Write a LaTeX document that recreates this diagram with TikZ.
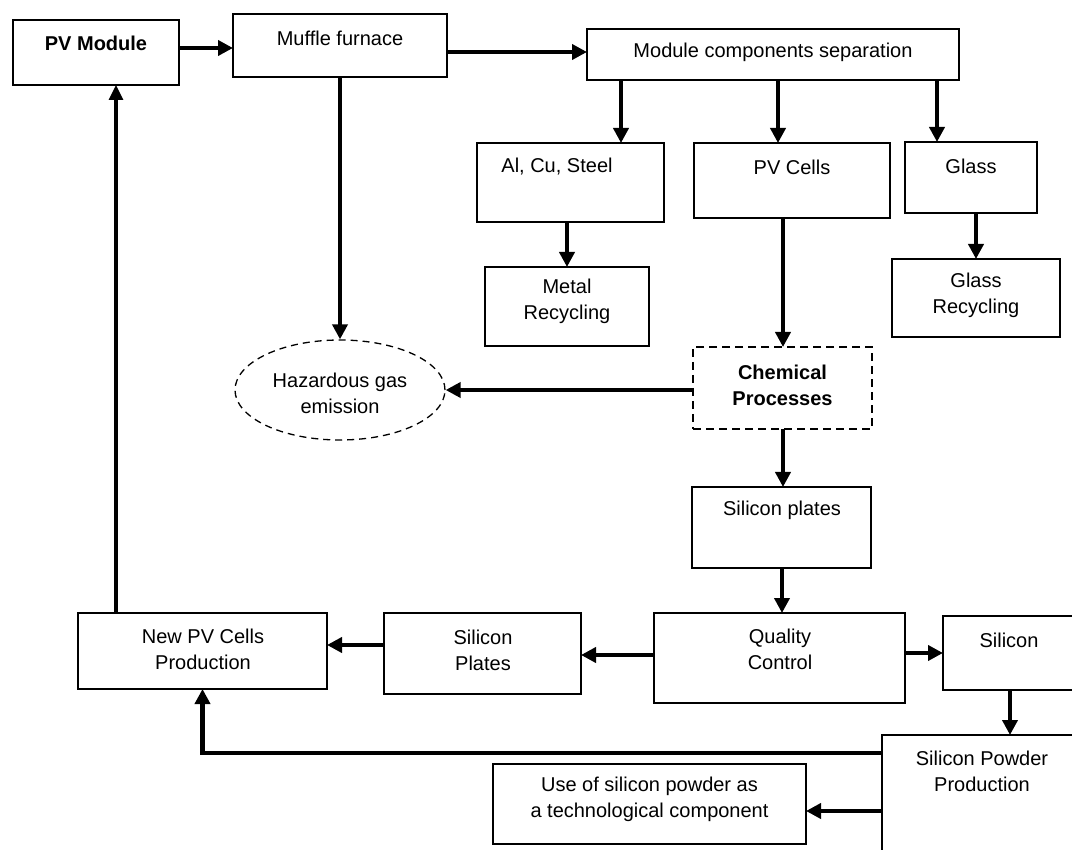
\documentclass[tikz,border=0pt]{standalone}
\usepackage{fontspec}
\setmainfont{Liberation Sans}
\usetikzlibrary{arrows.meta,shapes.geometric}
\begin{document}
\begin{tikzpicture}[x=1pt,y=-1pt,
  box/.style={draw, line width=1.6pt, inner sep=0pt, outer sep=0pt},
  dbox/.style={box, line width=2pt, dash pattern=on 8pt off 5pt},
  txt/.style={font=\fontsize{20}{26}\selectfont, align=center, inner sep=0pt},
  btxt/.style={txt, font=\fontsize{20}{26}\selectfont\bfseries},
  arr/.style={line width=4.5pt, -{Triangle[length=15pt,width=15pt]}},
  thinarr/.style={line width=3.2pt, -{Triangle[length=15pt,width=14pt]}},
]
\useasboundingbox (0,0) rectangle (1072,850);
\fill[white] (0,0) rectangle (1072,850);

% boxes
\node[box, minimum width=166, minimum height=65] (pv) at (96,52.5) {};
\node[btxt] (tpv) at (96,43) {PV Module};
\node[box, minimum width=214, minimum height=63] (muffle) at (340,45.5) {};
\node[txt] (tmuffle) at (340,38) {Muffle furnace};
\node[box, minimum width=372, minimum height=51] (mcs) at (773,54.5) {};
\node[txt] (tmcs) at (773,52) {Module components separation};
\node[box, minimum width=187, minimum height=79] (al) at (570.5,182.5) {};
\node[txt] (tal) at (557,167) {Al, Cu, Steel};
\node[box, minimum width=196, minimum height=75] (pvc) at (792,180.5) {};
\node[txt] (tpvc) at (792,167) {PV Cells};
\node[box, minimum width=132, minimum height=71] (glass) at (971,177.5) {};
\node[txt] (tglass) at (971,166) {Glass};
\node[box, minimum width=164, minimum height=79] (metal) at (567,306.5) {};
\node[txt] (tmetal) at (567,301.5) {Metal\\Recycling};
\node[box, minimum width=168, minimum height=78] (grec) at (976,298) {};
\node[txt] (tgrec) at (976,295) {Glass\\Recycling};
\node[draw, ellipse, line width=1.3pt, dash pattern=on 7pt off 5pt, inner sep=0pt,
      minimum width=210, minimum height=100] (haz) at (340,390) {};
\node[txt] (thaz) at (340,393.5) {Hazardous gas\\emission};
\node[dbox, minimum width=179, minimum height=82] (chem) at (782.5,388) {};
\node[btxt] (tchem) at (782.5,385) {Chemical\\Processes};
\node[box, minimum width=179, minimum height=81] (sp) at (781.5,527.5) {};
\node[txt] (tsp) at (782,510) {Silicon plates};
\node[box, minimum width=251, minimum height=90] (qc) at (779.5,658) {};
\node[txt] (tqc) at (780,649.5) {Quality\\Control};
\node[box, minimum width=132, minimum height=74] (si) at (1009,653) {};
\node[txt] (tsi) at (1009,640) {Silicon};
\node[box, minimum width=200, minimum height=125] (spp) at (982,797.5) {};
\node[txt] (tspp) at (982,771) {Silicon Powder\\Production};
\node[box, minimum width=197, minimum height=81] (splates) at (482.5,653.5) {};
\node[txt] (tsplates) at (483,650) {Silicon\\Plates};
\node[box, minimum width=249, minimum height=76] (newpv) at (202.5,651) {};
\node[txt] (tnewpv) at (203,649.5) {New PV Cells\\Production};
\node[box, minimum width=313, minimum height=80] (use) at (649.5,804) {};
\node[txt] (tuse) at (649.5,799.5) {Use of silicon powder as\\a technological component};

% connectors
\draw[arr] (pv.east |- 0,48) -- (muffle.west |- 0,48);
\draw[arr] (muffle.east |- 0,52) -- (mcs.west |- 0,52);
\draw[arr] (mcs.south -| 621,0) -- (al.north -| 621,0);
\draw[arr] (mcs.south -| 778,0) -- (pvc.north -| 778,0);
\draw[arr] (mcs.south -| 937,0) -- (glass.north -| 937,0);
\draw[arr] (al.south -| 567,0) -- (metal.north);
\draw[arr] (glass.south -| 976,0) -- (grec.north);
\draw[arr] (muffle.south) -- (haz.north);
\draw[arr] (pvc.south -| 783,0) -- (chem.north -| 783,0);
\draw[arr] (chem.west |- 0,390) -- (haz.east);
\draw[arr] (chem.south -| 783,0) -- (sp.north -| 783,0);
\draw[arr] (sp.south -| 782,0) -- (qc.north -| 782,0);
\draw[arr] (qc.east |- 0,653) -- (si.west |- 0,653);
\draw[arr] (qc.west |- 0,655) -- (splates.east |- 0,655);
\draw[arr] (splates.west |- 0,645) -- (newpv.east |- 0,645);
\draw[arr] (si.south -| 1010,0) -- (spp.north -| 1010,0);
\draw[arr] (spp.west |- 0,811) -- (use.east |- 0,811);
\draw[arr] (spp.west |- 0,753) -| (newpv.south);
\draw[thinarr] (newpv.north -| 116,0) -- (pv.south -| 116,0);
\end{tikzpicture}
\end{document}
